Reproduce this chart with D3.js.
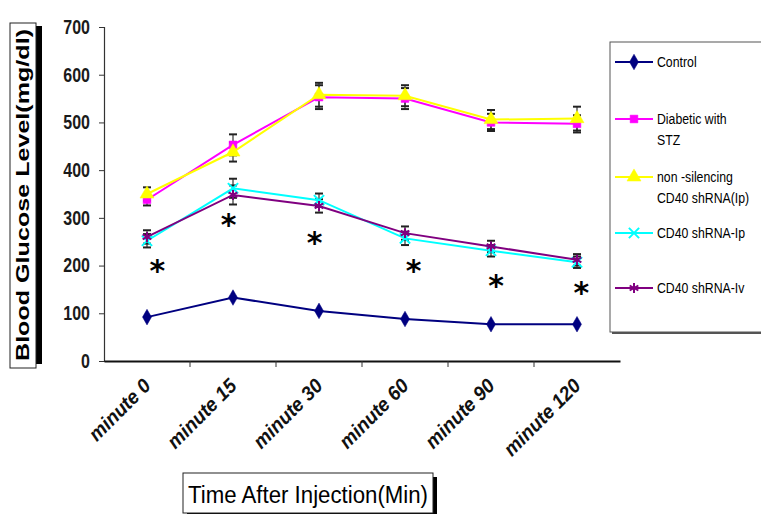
<!DOCTYPE html>
<html>
<head>
<meta charset="utf-8">
<script src="https://cdn.jsdelivr.net/npm/d3@7"></script>
<style>
  body { margin: 0; background: #fff; }
  svg { display: block; }
  text { font-family: "Liberation Sans", Arial, sans-serif; }
</style>
</head>
<body>
<svg width="761" height="514"></svg>
<script>
// data
var categories = ["minute 0", "minute 15", "minute 30", "minute 60", "minute 90", "minute 120"];
var yTicks = [0, 100, 200, 300, 400, 500, 600, 700];

var control      = [92, 133, 105, 88, 77, 77];
var diabetic     = [338, 453, 553, 550, 500, 497];
var nonSilencing = [350, 438, 558, 556, 506, 508];
var shrnaIp      = [252, 362, 337, 257, 231, 207];
var shrnaIv      = [260, 348, 325, 268, 240, 212];

var errDiabetic     = [12, 22, 25, 22, 18, 18];
var errNonSilencing = [14, 20, 25, 22, 20, 25];
var errIp           = [14, 20, 14, 14, 12, 12];
var errIv           = [14, 20, 14, 14, 12, 12];

// asterisk (significance) marks: value level and shift within band
var starValues = [200, 295, 258, 200, 167, 153];
var starShift  = [0.12, -0.05, -0.05, 0.1, 0.06, 0.05];

var series = [
  {name: "Control", lines: ["Control"], values: control, err: null, color: "#000080", symbol: "diamond"},
  {name: "Diabetic with STZ", lines: ["Diabetic with", "STZ"], values: diabetic, err: errDiabetic, color: "#ff00ff", symbol: "square"},
  {name: "non-silencing CD40 shRNA(Ip)", lines: ["non -silencing", "CD40 shRNA(Ip)"], values: nonSilencing, err: errNonSilencing, color: "#ffff00", symbol: "triangle"},
  {name: "CD40 shRNA-Ip", lines: ["CD40 shRNA-Ip"], values: shrnaIp, err: errIp, color: "#00ffff", symbol: "cross"},
  {name: "CD40 shRNA-Iv", lines: ["CD40 shRNA-Iv"], values: shrnaIv, err: errIv, color: "#800080", symbol: "star"}
];

// squeeze text horizontally (the original uses a narrow font)
function condense(sel, f) {
  sel.each(function() {
    var w = this.getComputedTextLength();
    d3.select(this).attr("textLength", w * f).attr("lengthAdjust", "spacingAndGlyphs");
  });
}

var svg = d3.select("svg");

// plot area
var x = d3.scaleBand().domain(categories).range([104, 620]);
var y = d3.scaleLinear().domain([0, 700]).range([361, 27]);
var cx = function(i) { return x(categories[i]) + x.bandwidth() / 2; };

// y axis
var yAxis = svg.append("g")
    .attr("transform", "translate(104,0)")
    .call(d3.axisLeft(y).tickValues(yTicks).tickSize(5).tickPadding(9));
yAxis.select(".domain").attr("stroke", "#333").attr("stroke-width", 1.2);
yAxis.selectAll(".tick line").attr("stroke", "#333");
yAxis.selectAll("text")
    .style("font-size", "20px")
    .style("font-weight", "bold")
    .attr("fill", "#1a1a1a")
    .call(condense, 0.8);

// x axis
var xAxis = svg.append("g")
    .attr("transform", "translate(0,361)")
    .call(d3.axisBottom(x).tickSize(0).tickFormat(""));
xAxis.select(".domain").attr("stroke", "#111").attr("stroke-width", 2.2);
xAxis.selectAll(".tick").remove();
svg.append("g").selectAll("line")
    .data(categories.slice(1))
    .join("line")
    .attr("x1", function(d) { return x(d); })
    .attr("x2", function(d) { return x(d); })
    .attr("y1", 361).attr("y2", 367)
    .attr("stroke", "#333");

svg.append("g").selectAll("text")
    .data(categories)
    .join("text")
    .attr("transform", function(d, i) { return "translate(" + (cx(i) + 5) + ",387) rotate(-45)"; })
    .attr("text-anchor", "end")
    .style("font-size", "20px")
    .style("font-weight", "bold")
    .style("font-style", "italic")
    .attr("fill", "#111")
    .text(function(d) { return d; })
    .call(condense, 0.95);

// symbols
var symbolTypes = {
  diamond: d3.symbolDiamond,
  square: d3.symbolSquare,
  triangle: d3.symbolTriangle,
  cross: d3.symbolTimes,
  star: d3.symbolAsterisk
};
function symbolSize(s) {
  if (s.symbol === "triangle") return 85;
  if (s.symbol === "diamond") return 70;
  if (s.symbol === "square") return 60;
  return 70;
}
function drawSymbol(g, s) {
  var open = s.symbol === "cross" || s.symbol === "star";
  g.append("path")
    .attr("d", d3.symbol().type(symbolTypes[s.symbol]).size(symbolSize(s))())
    .attr("fill", open ? "none" : s.color)
    .attr("stroke", s.color)
    .attr("stroke-width", open ? 2 : 0.5);
}

var line = d3.line()
    .x(function(d, i) { return cx(i); })
    .y(function(d) { return y(d); });

// error bars first
series.forEach(function(s) {
  if (!s.err) return;
  var g = svg.append("g");
  s.values.forEach(function(v, i) {
    var xc = cx(i), top = y(v + s.err[i]), bot = y(v - s.err[i]);
    g.append("line").attr("x1", xc).attr("x2", xc).attr("y1", top).attr("y2", bot)
      .attr("stroke", "#333").attr("stroke-width", 1.2);
    [top, bot].forEach(function(yy) {
      g.append("line").attr("x1", xc - 4).attr("x2", xc + 4).attr("y1", yy).attr("y2", yy)
        .attr("stroke", "#222").attr("stroke-width", 2);
    });
  });
});

// lines and markers
series.forEach(function(s) {
  svg.append("path")
    .datum(s.values)
    .attr("d", line)
    .attr("fill", "none")
    .attr("stroke", s.color)
    .attr("stroke-width", 2);
  s.values.forEach(function(v, i) {
    var g = svg.append("g").attr("transform", "translate(" + cx(i) + "," + y(v) + ")");
    drawSymbol(g, s);
  });
});

// asterisks
svg.append("g").selectAll("text")
    .data(starValues)
    .join("text")
    .attr("x", function(d, i) { return cx(i) + starShift[i] * x.bandwidth(); })
    .attr("y", function(d) { return y(d) + 15; })
    .attr("text-anchor", "middle")
    .style("font-family", "'DejaVu Sans', sans-serif")
    .style("font-size", "30px")
    .style("font-weight", "bold")
    .attr("fill", "#000")
    .text("*");

// y title box with shadow
svg.append("rect").attr("x", 15).attr("y", 26).attr("width", 27).attr("height", 338).attr("fill", "#000");
svg.append("rect").attr("x", 10).attr("y", 23).attr("width", 26).attr("height", 345)
    .attr("fill", "#fff").attr("stroke", "#222").attr("stroke-width", 1);
svg.append("text")
    .attr("transform", "translate(29,195) rotate(-90)")
    .attr("text-anchor", "middle")
    .attr("textLength", 332)
    .attr("lengthAdjust", "spacingAndGlyphs")
    .style("font-size", "18px")
    .style("font-weight", "bold")
    .attr("fill", "#000")
    .text("Blood Glucose Level(mg/dl)");

// x title box
svg.append("rect").attr("x", 187).attr("y", 477).attr("width", 250).attr("height", 40).attr("fill", "#000");
svg.append("rect").attr("x", 183).attr("y", 473).attr("width", 250).attr("height", 40)
    .attr("fill", "#fff").attr("stroke", "#222").attr("stroke-width", 1);
svg.append("text")
    .attr("x", 188).attr("y", 503)
    .attr("textLength", 240)
    .attr("lengthAdjust", "spacingAndGlyphs")
    .style("font-size", "23px")
    .attr("fill", "#000")
    .text("Time After Injection(Min)");

// legend
var legendY = [62, 119, 177, 233, 288];
svg.append("rect").attr("x", 612).attr("y", 44).attr("width", 160).attr("height", 290).attr("fill", "#555");
svg.append("rect").attr("x", 610).attr("y", 42).attr("width", 160).attr("height", 290)
    .attr("fill", "#fff").attr("stroke", "#555").attr("stroke-width", 1);
series.forEach(function(s, k) {
  var ly = legendY[k];
  var g = svg.append("g");
  g.append("line").attr("x1", 615).attr("x2", 653).attr("y1", ly).attr("y2", ly)
    .attr("stroke", s.color).attr("stroke-width", 2);
  var sg = g.append("g").attr("transform", "translate(634," + ly + ")");
  drawSymbol(sg, s);
  s.lines.forEach(function(t, j) {
    g.append("g")
      .attr("transform", "translate(657," + (ly + 5 + j * 21) + ") scale(0.82,1)")
      .append("text")
      .style("font-size", "15px")
      .attr("fill", "#000")
      .text(t);
  });
});
</script>
</body>
</html>
